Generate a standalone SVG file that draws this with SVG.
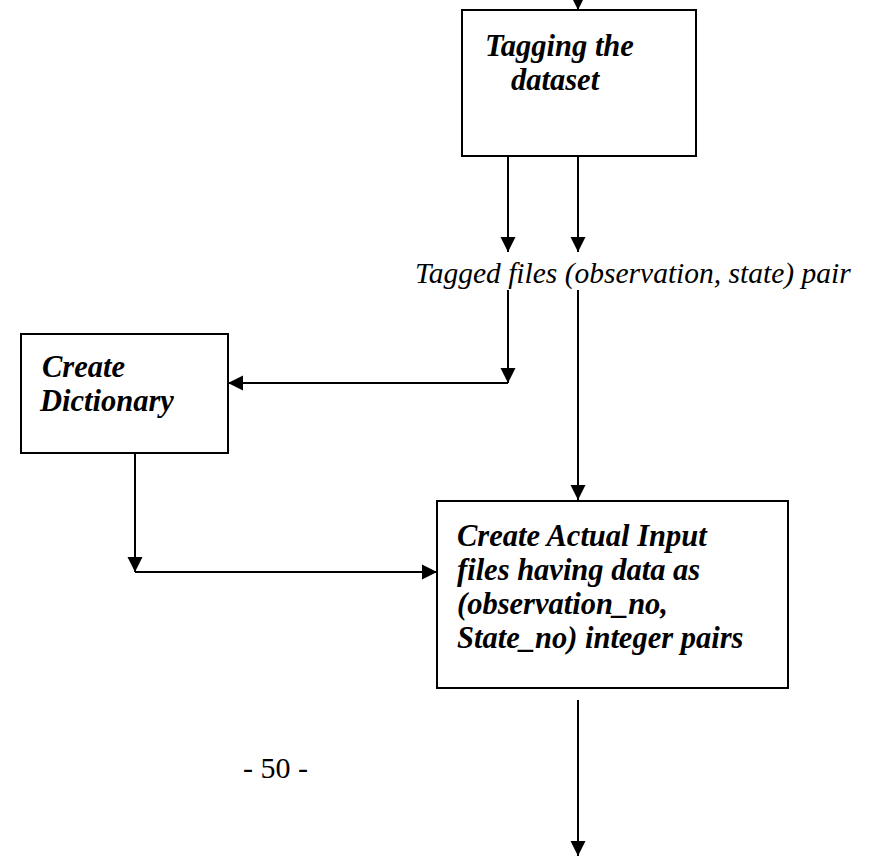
<svg xmlns="http://www.w3.org/2000/svg" width="889" height="856" viewBox="0 0 889 856">
  <defs>
    <marker id="head" markerUnits="userSpaceOnUse" markerWidth="16" markerHeight="16" viewBox="0 0 16 16" refX="15" refY="8" orient="auto">
      <path d="M0,0.5 L15,8 L0,15.5 Z" fill="#000"/>
    </marker>
    <style>
      .box { fill: #fff; stroke: #000; stroke-width: 2; }
      .label { font-family: "Liberation Serif", "Times New Roman", serif; font-weight: bold; font-style: italic; font-size: 30.5px; fill: #000; }
      .note { font-family: "Liberation Serif", "Times New Roman", serif; font-style: italic; font-size: 29.5px; fill: #000; }
      .page { font-family: "Liberation Serif", "Times New Roman", serif; font-size: 30px; fill: #000; }
      .wire { fill: none; stroke: #000; stroke-width: 2; }
      .arrow { marker-end: url(#head); }
    </style>
  </defs>
  <rect width="889" height="856" fill="#fff"/>

  <!-- connectors -->
  <g id="connectors">
    <path class="wire arrow" d="M578,-10 L578,10"/>
    <path class="wire arrow" d="M508,156 L508,252"/>
    <path class="wire arrow" d="M578,156 L578,252"/>
    <path class="wire arrow" d="M508,290 L508,383"/>
    <path class="wire arrow" d="M508,383 L228,383"/>
    <path class="wire arrow" d="M578,290 L578,500"/>
    <path class="wire arrow" d="M135,453 L135,572"/>
    <path class="wire arrow" d="M135,572 L437,572"/>
    <path class="wire arrow" d="M578,700 L578,856"/>
  </g>

  <!-- intermediate data label -->
  <text class="note" x="415" y="283">Tagged files (observation, state) pair</text>

  <g id="tagging">
    <rect class="box" x="462" y="10" width="234" height="146"/>
    <text class="label" x="485" y="56">Tagging the</text>
    <text class="label" x="511" y="90">dataset</text>
  </g>

  <g id="dictionary">
    <rect class="box" x="21" y="334" width="207" height="119"/>
    <text class="label" x="42" y="377">Create</text>
    <text class="label" x="40" y="411">Dictionary</text>
  </g>

  <g id="input-files">
    <rect class="box" x="437" y="501" width="351" height="187"/>
    <text class="label" x="457" y="546">Create Actual Input</text>
    <text class="label" x="457" y="580">files having data as</text>
    <text class="label" x="457" y="614">(observation_no,</text>
    <text class="label" x="457" y="648">State_no) integer pairs</text>
  </g>

  <!-- page number -->
  <text class="page" x="243" y="778">- 50 -</text>
</svg>
